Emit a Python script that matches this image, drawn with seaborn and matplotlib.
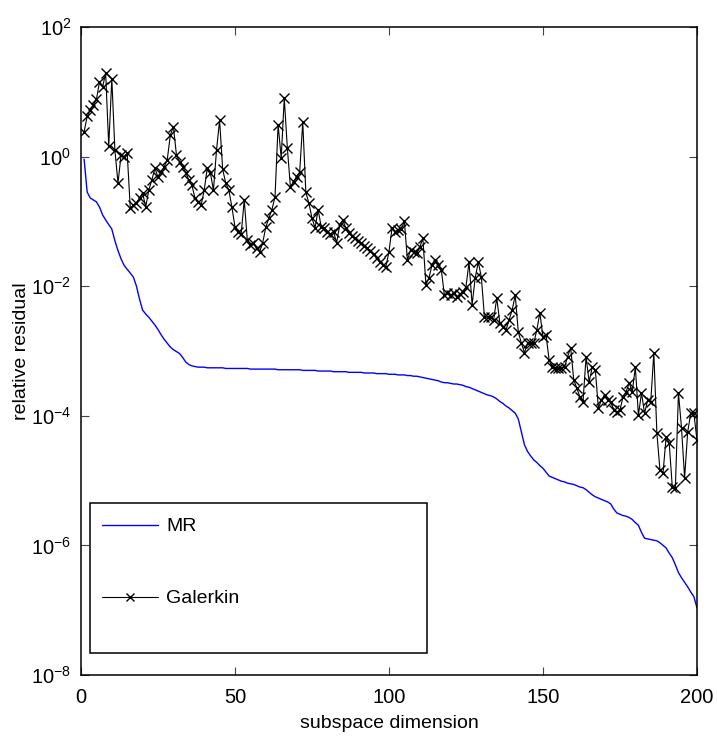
import numpy as np
import pandas as pd
import matplotlib
matplotlib.use("Agg")
import matplotlib.pyplot as plt
from matplotlib.patches import Rectangle
from matplotlib.ticker import NullLocator
import seaborn as sns

# ---- data (log10 of relative residual) ----
dims = list(range(1, 201))

mr_log10 = [
    -0.04, -0.55, -0.64, -0.67, -0.70, -0.78, -0.90, -0.98, -1.05, -1.12,
    -1.30, -1.45, -1.58, -1.68, -1.74, -1.80, -1.86, -2.00, -2.20, -2.37,
    -2.43, -2.48, -2.54, -2.60, -2.67, -2.75, -2.82, -2.88, -2.94, -2.98,
    -3.01, -3.04, -3.10, -3.17, -3.21, -3.23, -3.24, -3.25, -3.25, -3.25,
    -3.26, -3.26, -3.26, -3.26, -3.26, -3.26, -3.27, -3.27, -3.27, -3.27,
    -3.27, -3.27, -3.27, -3.27, -3.28, -3.28, -3.28, -3.28, -3.28, -3.28,
    -3.28, -3.28, -3.28, -3.29, -3.29, -3.29, -3.29, -3.29, -3.29, -3.29,
    -3.29, -3.30, -3.30, -3.30, -3.30, -3.30, -3.31, -3.31, -3.31, -3.31,
    -3.31, -3.32, -3.32, -3.32, -3.32, -3.32, -3.33, -3.33, -3.33, -3.33,
    -3.33, -3.34, -3.34, -3.34, -3.34, -3.35, -3.35, -3.35, -3.35, -3.36,
    -3.36, -3.36, -3.37, -3.37, -3.37, -3.38, -3.38, -3.39, -3.39, -3.40,
    -3.41, -3.42, -3.43, -3.44, -3.45, -3.46, -3.48, -3.49, -3.49, -3.50,
    -3.51, -3.51, -3.52, -3.53, -3.55, -3.56, -3.58, -3.60, -3.62, -3.64,
    -3.66, -3.68, -3.69, -3.71, -3.74, -3.78, -3.81, -3.85, -3.88, -3.92,
    -3.96, -4.05, -4.25, -4.45, -4.55, -4.62, -4.68, -4.72, -4.77, -4.81,
    -4.87, -4.93, -4.95, -4.97, -4.99, -5.01, -5.02, -5.04, -5.05, -5.06,
    -5.08, -5.10, -5.11, -5.14, -5.18, -5.22, -5.25, -5.27, -5.29, -5.31,
    -5.33, -5.36, -5.44, -5.50, -5.52, -5.54, -5.55, -5.57, -5.60, -5.65,
    -5.69, -5.80, -5.89, -5.90, -5.91, -5.92, -5.93, -5.96, -6.00, -6.04,
    -6.12, -6.19, -6.30, -6.42, -6.50, -6.57, -6.64, -6.72, -6.79, -6.96,
]

galerkin_log10 = [
    0.38, 0.62, 0.72, 0.80, 0.88, 1.15, 1.07, 1.29, 0.16, 1.20,
    0.10, -0.41, 0.02, 0.00, 0.05, -0.80, -0.75, -0.72, -0.64, -0.56,
    -0.78, -0.52, -0.36, -0.18, -0.32, -0.24, -0.16, -0.05, 0.33, 0.46,
    0.02, -0.08, -0.16, -0.25, -0.36, -0.44, -0.64, -0.70, -0.75, -0.52,
    -0.18, -0.25, -0.52, 0.10, 0.56, -0.20, -0.41, -0.52, -0.78, -1.09,
    -1.16, -1.20, -0.67, -1.29, -1.36, -1.33, -1.41, -1.47, -1.33, -1.09,
    -0.95, -0.82, -0.62, 0.49, -0.02, 0.90, 0.13, -0.47, -0.39, -0.31,
    -0.24, 0.53, -0.55, -0.72, -0.95, -1.10, -0.82, -1.09, -1.10, -1.16,
    -1.20, -1.16, -1.33, -1.06, -0.98, -1.10, -1.18, -1.23, -1.26, -1.30,
    -1.33, -1.38, -1.41, -1.46, -1.50, -1.56, -1.63, -1.67, -1.70, -1.47,
    -1.10, -1.16, -1.13, -1.12, -1.00, -1.60, -1.44, -1.47, -1.49, -1.40,
    -1.26, -1.98, -1.87, -1.67, -1.60, -1.67, -1.75, -2.14, -2.10, -2.14,
    -2.10, -2.17, -2.12, -2.09, -2.01, -1.63, -2.29, -1.87, -1.63, -1.86,
    -2.48, -2.48, -2.48, -2.52, -2.18, -2.57, -2.63, -2.68, -2.52, -2.37,
    -2.14, -2.71, -2.88, -3.03, -2.88, -2.88, -2.88, -2.68, -2.41, -2.78,
    -2.75, -3.14, -3.25, -3.26, -3.26, -3.26, -3.25, -3.09, -2.95, -3.45,
    -3.57, -3.71, -3.79, -3.09, -3.48, -3.25, -3.29, -3.88, -3.76, -3.68,
    -3.76, -3.79, -3.91, -3.94, -3.91, -3.71, -3.63, -3.49, -3.63, -3.25,
    -3.99, -3.65, -3.96, -3.76, -3.79, -3.03, -4.27, -4.84, -4.88, -4.33,
    -4.42, -5.10, -5.11, -3.65, -4.19, -4.96, -4.25, -3.96, -3.96, -4.37,
]

series_labels = ["MR", "Galerkin"]
x_ticks = [0, 50, 100, 150, 200]
y_ticks = [1e-8, 1e-6, 1e-4, 1e-2, 1e0, 1e2]

df = pd.DataFrame({
    "dim": dims,
    "MR": 10.0 ** np.array(mr_log10),
    "Galerkin": 10.0 ** np.array(galerkin_log10),
})

# ---- style ----
sns.set_style("ticks")
plt.rcParams["font.family"] = ["Liberation Sans", "DejaVu Sans"]
plt.rcParams["mathtext.fontset"] = "custom"
plt.rcParams["mathtext.rm"] = "Liberation Sans"
plt.rcParams["mathtext.it"] = "Liberation Sans:italic"
plt.rcParams["mathtext.bf"] = "Liberation Sans:bold"
for key in ["text.color", "axes.labelcolor", "xtick.color", "ytick.color",
            "xtick.labelcolor", "ytick.labelcolor"]:
    plt.rcParams[key] = "black"

fig = plt.figure(figsize=(7.17, 7.39), dpi=100)
ax = fig.add_axes([0.113, 0.0866, 0.859, 0.877])

sns.lineplot(data=df, x="dim", y="MR", ax=ax, color="#0000FF",
             linewidth=1.0, estimator=None, label=series_labels[0])
sns.lineplot(data=df, x="dim", y="Galerkin", ax=ax, color="black",
             linewidth=0.8, marker="x", markersize=7.5, markeredgewidth=1.0,
             markeredgecolor="black", estimator=None, label=series_labels[1])

ax.set_yscale("log")
ax.set_xlim(0, 200)
ax.set_ylim(1e-8, 1e2)
ax.set_xticks(x_ticks)
ax.set_yticks(y_ticks)
ax.yaxis.set_minor_locator(NullLocator())
ax.xaxis.set_minor_locator(NullLocator())

ax.tick_params(axis="both", which="major", direction="in", length=6,
               width=0.8, top=True, right=True, labelsize=14.5,
               color="#444444", labelcolor="black")
ax.tick_params(axis="x", pad=9)
ax.tick_params(axis="y", pad=7)
for s in ax.spines.values():
    s.set_visible(True)
    s.set_linewidth(1.1)
    s.set_color("black")

ax.set_xlabel("subspace dimension", fontsize=14, labelpad=6)
ax.set_ylabel("relative residual", fontsize=14, labelpad=1)

# legend box (MATLAB-style, large frame)
ax.add_patch(Rectangle((0.0146, 0.034), 0.547, 0.2315, transform=ax.transAxes,
                       fill=True, facecolor="white", edgecolor="black",
                       linewidth=1.1, zorder=5))
leg = ax.legend(loc="center left", bbox_to_anchor=(0.034, 0.1735),
                frameon=False, fontsize=14, borderpad=0, borderaxespad=0,
                handlelength=2.9, handletextpad=0.4, labelspacing=2.8)
leg.set_zorder(6)
for h in leg.legend_handles:
    try:
        h.set_markersize(6)
    except Exception:
        pass

fig.savefig("out.png", dpi=100, facecolor="white")
